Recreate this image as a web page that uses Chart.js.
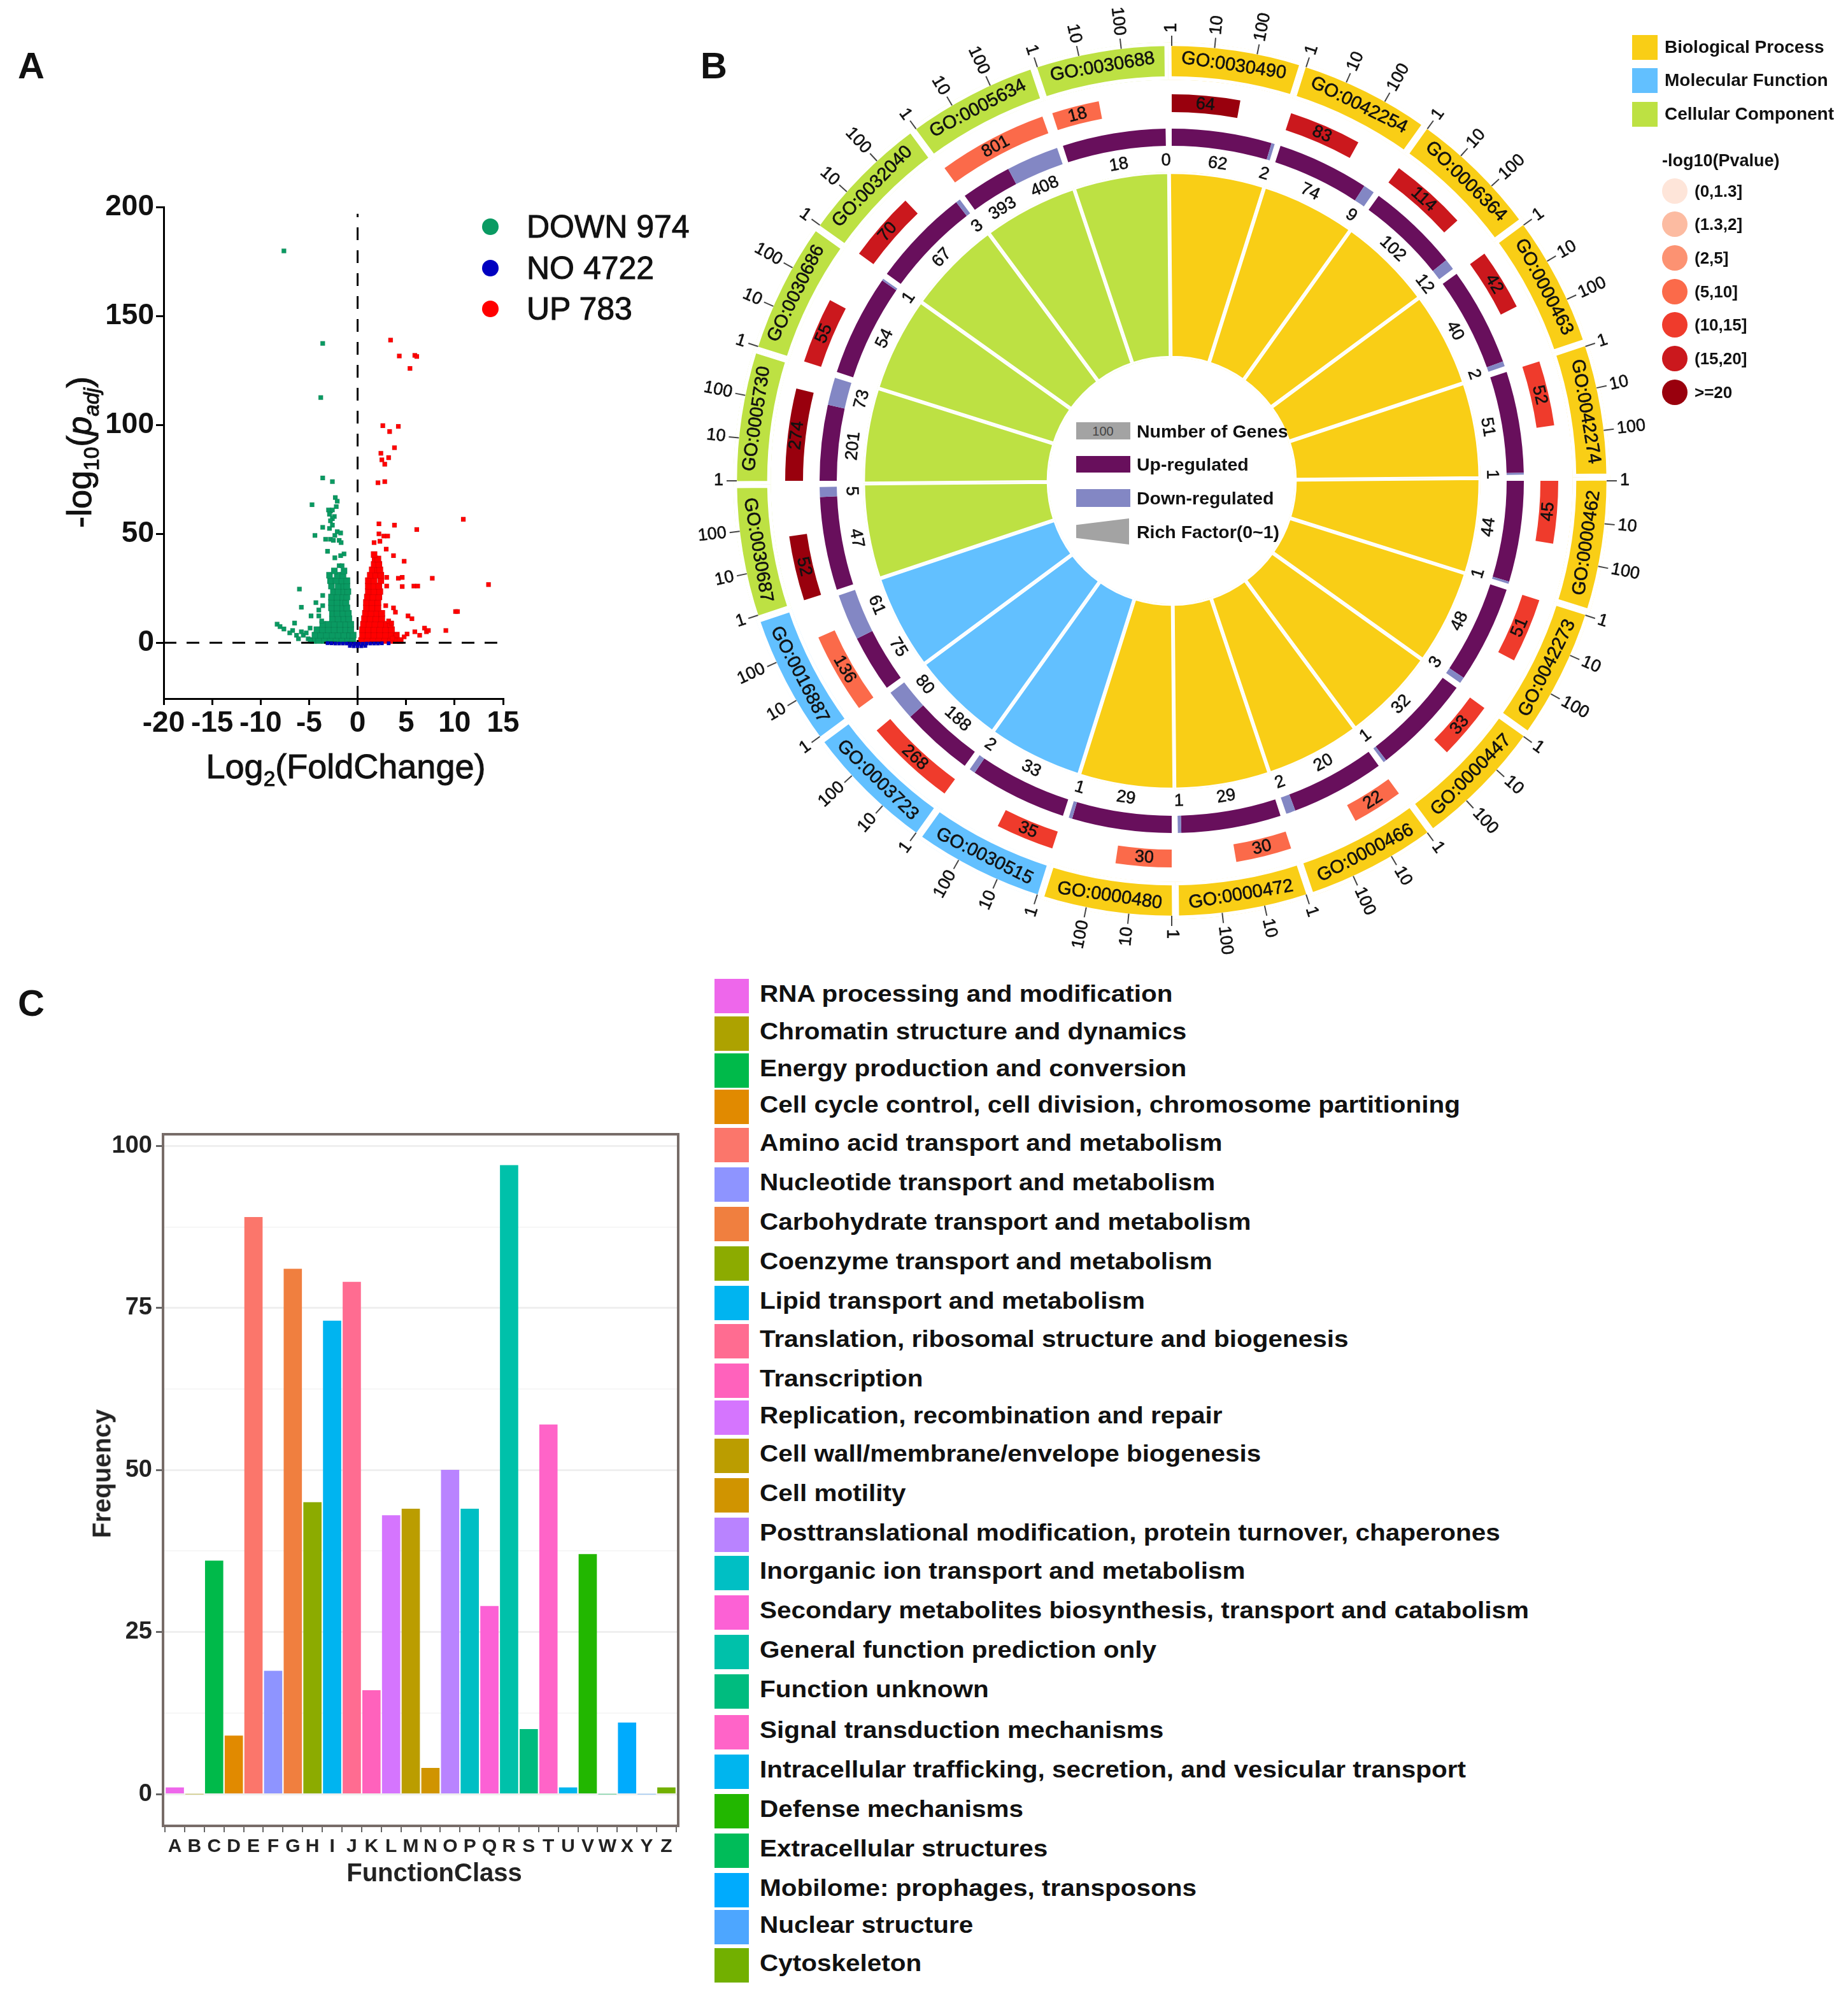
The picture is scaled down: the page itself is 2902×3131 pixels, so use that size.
<!DOCTYPE html>
<html>
<head>
<meta charset="utf-8">
<title>DEG volcano, GO circle plot and COG classes</title>
<script src="https://cdn.jsdelivr.net/npm/chart.js@4/dist/chart.umd.min.js"></script>
<style>
  html, body { margin: 0; padding: 0; background: #fff; }
  #page { position: relative; width: 2902px; height: 3131px; overflow: hidden; font-family: "Liberation Sans", Arial, sans-serif; color: #111; }
  #page canvas { position: absolute; }
  .txt { position: absolute; white-space: nowrap; line-height: 1; transform: translateY(-50%); }
  .box { position: absolute; }
  sub { font-size: 62%; line-height: 0; }
</style>
</head>
<body>
<div id="page">
  <canvas id="volcano" width="900" height="1000" style="left:0;top:280px"></canvas>
  <canvas id="circle" width="1600" height="1530" style="left:1040px;top:0"></canvas>
  <canvas id="cogBars" width="1100" height="1260" style="left:0;top:1740px"></canvas>
</div>
<script>
/////////////////// PANEL A DATA : VOLCANO POINTS (log2FC, -log10 padj) ///////////////////
const downLoose = [[-7.6,180],[-3.6,137.5],[-3.8,112.6],[-3.6,75.7],[-2.6,74],[-4.7,63.4],[-2.3,66.7],[-2.1,65],[-2.2,62.5],
  [-2.8,60.5],[-2.6,61],[-3,61],[-2.9,59],[-2.4,58],[-2.6,57],[-2.8,56],[-2.6,54],[-2.9,52.5],[-3.6,53],[-4.4,49.3],[-3.3,47.5],[-2.8,47.5],
  [-2.1,51],[-1.75,50.4],[-2.35,49.3],[-2.5,47],[-1.9,47],[-1.7,46],[-3.1,42],[-1.4,40.8],[-1.75,40],[-2.35,39],[-1.9,35.4],[-1.6,35.4],
  [-6,24.6],[-3.6,21.7],[-4.3,18.4],[-3.6,17],[-5.8,16.3],[-4,15],[-4.8,12.3],[-4,12.3],[-3.7,10],[-8.3,8.5],[-8,7.4],[-7.6,6.3],[-6.5,9],
  [-6.7,5.6],[-7,4.5],[-6.3,3.4],[-5.8,5],[-5.1,1.8],[-4.9,6.7],[-5.6,3.4],[-6.1,1.8],[-5.3,4.5],[-4.9,1]];
const downCore = [[-4.6,1],[-4,1],[-3.4,1],[-2.8,1],[-2.2,1],[-1.6,1],[-1,1],[-0.5,1],
  [-4.4,3.5],[-3.8,3.5],[-3.2,3.5],[-2.6,3.5],[-2,3.5],[-1.4,3.5],[-0.8,3.5],[-0.45,3.5],
  [-4.2,6],[-3.6,6],[-3,6],[-2.4,6],[-1.8,6],[-1.2,6],[-0.7,6],
  [-3.6,8.5],[-3,8.5],[-2.4,8.5],[-1.8,8.5],[-1.2,8.5],[-0.7,8.5],
  [-2.6,11],[-2,11],[-1.4,11],[-0.9,11],[-2.6,13.5],[-2.1,13.5],[-1.5,13.5],[-0.95,13.5],
  [-2.7,16],[-2.1,16],[-1.5,16],[-1.1,16],[-2.7,18.5],[-2.1,18.5],[-1.5,18.5],[-1.2,18.5],
  [-2.7,21],[-2.1,21],[-1.5,21],[-1.1,21],[-2.5,23.5],[-2,23.5],[-1.4,23.5],[-1,23.5],
  [-2.7,26],[-2,26],[-1.4,26],[-1.1,26],[-2.8,28.5],[-2.2,28.5],[-1.6,28.5],[-1.1,28.5],
  [-2.9,31],[-2.1,31],[-1.5,31],[-2.4,33],[-1.4,33]];
const upLoose = [[3.4,139],[4.3,131.7],[5.9,132],[6.1,131.5],[5.4,126],[2.6,99.7],[4.2,99.4],[3.3,97],[3.8,89.6],[2.4,87],[3.2,85],[2.5,84],
  [2.8,82],[2.1,73.5],[2.8,74],[2.2,54.6],[3.8,54],[6.1,52],[10.9,56.7],[2.2,50],[2.7,49],[3.1,49],[1.7,46],[2.3,46.6],[2.95,43],[3.7,40],
  [4.8,37.4],[7.7,29.6],[4.2,29.6],[4.6,30],[3,30],[13.5,26.7],[3,26],[4.6,25.8],[5.8,26],[6.2,26],[10.1,14.3],[10.3,14.3],[3.7,16],[3.9,14],
  [5.2,12.3],[5.6,11],[9.1,5.6],[7.1,5],[6.9,6.7],[7.3,5.6],[5.9,5],[5.1,4],[4.8,2.7],[6.4,3.4],[4,3.4],[3.6,2],[2.9,17],[3.2,10],[3.5,9]];
const upCore = [[0.4,1],[1,1],[1.6,1],[2.2,1],[2.8,1],[3.4,1],[4,1],[4.4,1],
  [0.5,3.5],[1.1,3.5],[1.7,3.5],[2.3,3.5],[2.9,3.5],[3.5,3.5],[4,3.5],
  [0.5,6],[1.1,6],[1.7,6],[2.3,6],[2.9,6],[3.5,6],[0.6,8.5],[1.2,8.5],[1.8,8.5],[2.4,8.5],[3,8.5],[3.4,8.5],
  [0.7,11],[1.3,11],[1.9,11],[2.5,11],[0.8,13.5],[1.4,13.5],[2,13.5],[2.5,13.5],
  [0.9,16],[1.5,16],[2.1,16],[0.9,18.5],[1.5,18.5],[2.1,18.5],[1,21],[1.6,21],[2.2,21],
  [1.1,23.5],[1.7,23.5],[2.3,23.5],[1.1,26],[1.7,26],[2.2,26],[1.1,28.5],[1.7,28.5],[2.4,28.5],
  [1.3,31],[1.9,31],[2.4,31],[1.5,33.5],[2.1,33.5],[2.3,33.5],[1.7,36],[2.2,36],[1.8,38.5],[2.1,38.5],[1.7,40.5]];
const noPoints = [[-3.1,-0.2],[-2.7,-0.3],[-2.3,-0.4],[-1.9,-0.4],[-1.5,-0.4],[-1.1,-0.4],[-0.7,-0.5],[-0.3,-0.5],[0.1,-0.5],[0.5,-0.5],[0.9,-0.4],
  [1.3,-0.4],[1.7,-0.4],[2.1,-0.4],[2.5,-0.3],[3.2,-0.3],[-0.8,-1.5],[-0.4,-1.6],[0,-1.6],[0.4,-1.6],[0.8,-1.5]];
const volcanoXTicks = [-20,-15,-10,-5,0,5,10,15];
const volcanoYTicks = [0,50,100,150,200];
const volcanoLegend = ["DOWN 974","NO 4722","UP 783"];
const volcanoColors = ["#0A9A62","#0000C0","#FF0000"];

/////////////////// PANEL B DATA : GO CIRCLE, CLOCKWISE FROM THE TOP //////////////////////
const goTerms = ["GO:0030490","GO:0042254","GO:0006364","GO:0000463","GO:0042274","GO:0000462","GO:0042273","GO:0000447","GO:0000466","GO:0000472","GO:0000480",
  "GO:0030515","GO:0003723","GO:0016887","GO:0030687","GO:0005730","GO:0030686","GO:0032040","GO:0005634","GO:0030688"];
const goClass = ["BP","BP","BP","BP","BP","BP","BP","BP","BP","BP","BP","MF","MF","MF","CC","CC","CC","CC","CC","CC"];
const goTotal = [64,83,114,42,52,45,51,33,22,30,30,35,268,136,52,274,55,70,801,18];
const goUp = [62,74,102,40,51,44,48,32,20,29,29,33,188,75,47,201,54,67,393,18];
const goDown = [2,9,12,2,1,1,3,1,2,1,1,2,80,61,5,73,1,3,408,0];
const goPvalueBin = [6,5,5,5,4,4,4,4,3,3,3,4,4,3,6,6,5,5,3,3];
const goTickLabels = ["1","10","100"];
const pvalueLabels = ["(0,1.3]","(1.3,2]","(2,5]","(5,10]","(10,15]","(15,20]",">=20"];
const pvalueColors = ["#FEE5D9","#FCBBA1","#FC9272","#FB6A4A","#EF3B2C","#CB181D","#99000D"];
const classNames = ["Biological Process","Molecular Function","Cellular Component"];
const classColors = {BP:"#F9CE16", MF:"#62C0FF", CC:"#BDE143"};
const upColor = "#680F5C";
const downColor = "#8387C4";

/////////////////// PANEL C DATA : FUNCTION CLASS BARS ///////////////////////////////////
const cogLetters = ["A","B","C","D","E","F","G","H","I","J","K","L","M","N","O","P","Q","R","S","T","U","V","W","X","Y","Z"];
const cogValues = [1,0,36,9,89,19,81,45,73,79,16,43,44,4,50,44,29,97,10,57,1,37,0,11,0,1];
const cogColors = ["#EE67EB","#ADA200","#00BA4A","#E18A00","#FB766B","#8E94FF","#F07F3F","#8CAB00","#00B4F0","#FF6C91","#FF62BC","#D575FE","#BB9D00","#D09400",
  "#B983FF","#00BFC4","#FC61D5","#00C1AA","#00BC7F","#FF64C8","#00B5EE","#22B700","#00BC59","#00ABFD","#4DA6FF","#72B000"];
const cogNames = ["RNA processing and modification","Chromatin structure and dynamics","Energy production and conversion","Cell cycle control, cell division, chromosome partitioning",
  "Amino acid transport and metabolism","Nucleotide transport and metabolism","Carbohydrate transport and metabolism","Coenzyme transport and metabolism","Lipid transport and metabolism",
  "Translation, ribosomal structure and biogenesis","Transcription","Replication, recombination and repair","Cell wall/membrane/envelope biogenesis","Cell motility",
  "Posttranslational modification, protein turnover, chaperones","Inorganic ion transport and metabolism","Secondary metabolites biosynthesis, transport and catabolism",
  "General function prediction only","Function unknown","Signal transduction mechanisms","Intracellular trafficking, secretion, and vesicular transport","Defense mechanisms",
  "Extracellular structures","Mobilome: prophages, transposons","Nuclear structure","Cytoskeleton"];
const cogYTicks = [0,12.5,25,37.5,50,62.5,75,87.5,100];

Chart.defaults.animation = false;
Chart.defaults.responsive = false;
Chart.defaults.font.family = '"Liberation Sans", Arial, sans-serif';
Chart.defaults.color = "#111";

const page = document.getElementById("page");

// small helpers for the text and legend keys that sit around the charts
function addText(html, x, y, font, extra) {
  const d = document.createElement("div");
  d.className = "txt";
  d.innerHTML = html;
  d.style.left = x + "px";
  d.style.top = y + "px";
  d.style.font = font + ' "Liberation Sans", Arial, sans-serif';
  if (extra) Object.assign(d.style, extra);
  page.appendChild(d);
  return d;
}
function addBox(x, y, w, h, color, extra) {
  const d = document.createElement("div");
  d.className = "box";
  Object.assign(d.style, {left: x + "px", top: y + "px", width: w + "px", height: h + "px", background: color});
  if (extra) Object.assign(d.style, extra);
  page.appendChild(d);
  return d;
}

/////////////////// PANEL A ///////////////////////////////////////////////////////////////
new Chart(document.getElementById("volcano"), {
  type: "scatter",
  data: {
    datasets: [
      {data: noPoints, backgroundColor: volcanoColors[1], pointRadius: 4, pointStyle: "rect", order: 0},
      {data: [[-20,0],[14.4,0]], showLine: true, borderColor: "#000", borderWidth: 3, borderDash: [20,16], pointRadius: 0, order: 1},
      {data: [[0,-25.7],[0,197]], showLine: true, borderColor: "#000", borderWidth: 3, borderDash: [20,16], pointRadius: 0, order: 1},
      {data: downLoose, backgroundColor: volcanoColors[0], pointRadius: 5, pointStyle: "rect", order: 2},
      {data: downCore, backgroundColor: volcanoColors[0], pointRadius: 7, pointStyle: "rect", order: 2},
      {data: upLoose, backgroundColor: volcanoColors[2], pointRadius: 5, pointStyle: "rect", order: 2},
      {data: upCore, backgroundColor: volcanoColors[2], pointRadius: 7, pointStyle: "rect", order: 2}
    ]
  },
  options: {
    events: [],
    layout: {padding: {left: 0, top: 45.6, right: 110, bottom: 83}},
    plugins: {legend: {display: false}, tooltip: {enabled: false}},
    scales: {
      x: {
        type: "linear", min: -20, max: 15,
        afterBuildTicks: a => { a.ticks = volcanoXTicks.map(v => ({value: v})); },
        afterFit: s => { s.height = 100; },
        border: {color: "#000", width: 3},
        grid: {drawOnChartArea: false, color: "#000", tickLength: 10, lineWidth: 3},
        ticks: {font: {size: 46, weight: "bold"}, color: "#111", padding: 2, maxRotation: 0, autoSkip: false, callback: v => String(v)}
      },
      y: {
        type: "linear", min: -25.7, max: 200,
        afterBuildTicks: a => { a.ticks = volcanoYTicks.map(v => ({value: v})); },
        afterFit: s => { s.width = 257; },
        border: {color: "#000", width: 3},
        grid: {drawOnChartArea: false, color: "#000", tickLength: 12, lineWidth: 3},
        ticks: {font: {size: 46, weight: "bold"}, color: "#111", padding: 3, callback: v => String(v)}
      }
    }
  }
});
const heavy = {WebkitTextStroke: "1px #111"};
addText('-log<sub>10</sub>(<i>p<sub>adj</sub></i>)', 124, 710, "54px", Object.assign({transform: "translate(-50%,-50%) rotate(-90deg)"}, heavy));
addText('Log<sub>2</sub>(FoldChange)', 543, 1203, "54px", Object.assign({transform: "translate(-50%,-50%)"}, heavy));
[356, 420.5, 485].forEach((y, i) => {
  addBox(757, y - 13, 26, 26, volcanoColors[i], {borderRadius: "50%"});
  addText(volcanoLegend[i], 827, y, "50px", heavy);
});

/////////////////// PANEL B ///////////////////////////////////////////////////////////////
const clear = "rgba(0,0,0,0)";
const SECTOR = 18, SECTOR_GAP = 0.5, SECTOR_USED = SECTOR - 2 * SECTOR_GAP;
const ringUpData = [], ringUpColors = [], ringPData = [], ringPColors = [];
goTerms.forEach((t, i) => {
  const sum = goUp[i] + goDown[i];
  ringUpData.push(SECTOR_GAP, SECTOR_USED * goUp[i] / sum, SECTOR_USED * goDown[i] / sum, SECTOR_GAP);
  ringUpColors.push(clear, upColor, downColor, clear);
  const arc = SECTOR_USED * Math.log10(goTotal[i]) / 3;
  ringPData.push(SECTOR_GAP, arc, SECTOR - SECTOR_GAP - arc);
  ringPColors.push(clear, pvalueColors[goPvalueBin[i]], clear);
});
const sectorColors = goClass.map(c => classColors[c]);
const spacerRing = w => ({data: [1], backgroundColor: clear, borderWidth: 0, weight: w});

// tangent rotation: bottoms point to the centre on the upper half, to the outside on the lower half
function tangentRot(theta) {
  return Math.cos(theta) > 0 ? theta : theta + Math.PI;
}
function putText(ctx, cx, cy, str, theta, r, rot, font, align) {
  ctx.save();
  ctx.translate(cx + r * Math.sin(theta), cy - r * Math.cos(theta));
  ctx.rotate(rot);
  ctx.font = font;
  ctx.textAlign = align || "center";
  ctx.textBaseline = "middle";
  ctx.fillStyle = "#111";
  ctx.strokeStyle = "#111";
  ctx.lineWidth = 0.6;
  ctx.fillText(str, 0, 0);
  ctx.strokeText(str, 0, 0);
  ctx.restore();
}
const fontFam = '"Liberation Sans", Arial, sans-serif';
const circleLabels = {
  id: "circleLabels",
  afterDatasetsDraw(chart) {
    const ctx = chart.ctx;
    const band = chart.getDatasetMeta(0).data;
    const ringP = chart.getDatasetMeta(2).data;
    const ringUp = chart.getDatasetMeta(4).data;
    const cx = band[0].x, cy = band[0].y;
    goTerms.forEach((term, i) => {
      const a = band[i];
      const startTheta = a.startAngle + Math.PI / 2;
      const midTheta = startTheta + (a.endAngle - a.startAngle) / 2;
      // GO label on the outer band
      putText(ctx, cx, cy, term, midTheta, 659, tangentRot(midTheta), "29px " + fontFam);
      // log scale ticks above the band
      goTickLabels.forEach((lab, k) => {
        const th = startTheta + (SECTOR_GAP + k * SECTOR_USED / 3) * Math.PI / 180;
        ctx.save();
        ctx.strokeStyle = "#444";
        ctx.lineWidth = 2;
        ctx.beginPath();
        ctx.moveTo(cx + 683 * Math.sin(th), cy - 683 * Math.cos(th));
        ctx.lineTo(cx + 699 * Math.sin(th), cy - 699 * Math.cos(th));
        ctx.stroke();
        ctx.restore();
        const right = Math.sin(th) > -0.001 && th < Math.PI + 0.001;
        if (right) putText(ctx, cx, cy, lab, th, 704, th - Math.PI / 2, "27px " + fontFam, "left");
        else putText(ctx, cx, cy, lab, th, 704, th + Math.PI / 2, "27px " + fontFam, "right");
      });
      // total count on the p value arc
      const p = ringP[i * 3 + 1];
      const pTheta = (p.startAngle + p.endAngle) / 2 + Math.PI / 2;
      putText(ctx, cx, cy, String(goTotal[i]), pTheta, 593, tangentRot(pTheta), "27px " + fontFam);
      // up and down counts under their arcs
      const u = ringUp[i * 4 + 1], d = ringUp[i * 4 + 2];
      const uTheta = (u.startAngle + u.endAngle) / 2 + Math.PI / 2;
      const dTheta = (d.startAngle + d.endAngle) / 2 + Math.PI / 2;
      putText(ctx, cx, cy, String(goUp[i]), uTheta, 503, tangentRot(uTheta), "27px " + fontFam);
      putText(ctx, cx, cy, String(goDown[i]), dTheta, 503, tangentRot(dTheta), "27px " + fontFam);
    });
  }
};
new Chart(document.getElementById("circle"), {
  type: "doughnut",
  plugins: [circleLabels],
  data: {
    labels: goTerms,
    datasets: [
      {data: goTerms.map(() => 1), backgroundColor: sectorColors, borderColor: "#fff", borderWidth: 5.5, borderAlign: "inner", weight: 59},
      spacerRing(22.5),
      {data: ringPData, backgroundColor: ringPColors, borderWidth: 0, weight: 28},
      spacerRing(26),
      {data: ringUpData, backgroundColor: ringUpColors, borderWidth: 0, weight: 27},
      spacerRing(41),
      {data: goTerms.map(() => 1), backgroundColor: sectorColors, borderColor: "#fff", borderWidth: 3, borderAlign: "inner", weight: 292}
    ]
  },
  options: {
    events: [],
    rotation: -0.5,
    cutout: 193,
    layout: {padding: {left: 111.5, right: 111.5, top: 66.5, bottom: 86.5}},
    plugins: {legend: {display: false}, tooltip: {enabled: false}}
  }
});
// keys in the hole of the circle
addBox(1690, 663, 85, 27, "#A3A3A3");
addText("100", 1732, 676.5, "20px", {transform: "translate(-50%,-50%)", color: "#444"});
addBox(1690, 716, 85, 26, upColor);
addBox(1690, 768, 85, 28, downColor);
addBox(1690, 814, 83, 41, "#A3A3A3", {clipPath: "polygon(0 25%,100% 0,100% 100%,0 75%)"});
addText("Number of Genes", 1785, 676.5, "bold 28.5px");
addText("Up-regulated", 1785, 729, "bold 28.5px");
addText("Down-regulated", 1785, 782, "bold 28.5px");
addText("Rich Factor(0~1)", 1785, 835, "bold 28.5px");
// class legend and p value legend
[55, 107, 160].forEach((y, i) => {
  addBox(2563, y, 40, 39, classColors[["BP","MF","CC"][i]]);
  addText(classNames[i], 2614, y + 19, "bold 28px");
});
addText("-log10(Pvalue)", 2610, 252, "bold 27px");
[299.5, 352, 404.6, 457.6, 510, 563, 616].forEach((y, i) => {
  addBox(2610, y - 20, 40, 40, pvalueColors[i], {borderRadius: "50%"});
  addText(pvalueLabels[i], 2661, y, "bold 26px");
});

/////////////////// PANEL C ///////////////////////////////////////////////////////////////
const frame = {
  id: "frame",
  afterDraw(chart) {
    const {ctx, chartArea: a} = chart;
    ctx.save();
    ctx.strokeStyle = "#776C68";
    ctx.lineWidth = 4;
    ctx.strokeRect(a.left, a.top, a.right - a.left, a.bottom - a.top);
    ctx.restore();
  }
};
new Chart(document.getElementById("cogBars"), {
  type: "bar",
  plugins: [frame],
  data: {
    datasets: [{
      data: cogValues.map((v, i) => ({x: i, y: v})),
      backgroundColor: cogColors,
      barThickness: 28
    }]
  },
  options: {
    events: [],
    layout: {padding: {left: 136, right: 35, top: 41, bottom: 33}},
    plugins: {legend: {display: false}, tooltip: {enabled: false}},
    scales: {
      x: {
        type: "linear", min: -0.6, max: 25.6, offset: false,
        afterBuildTicks: a => { a.ticks = cogLetters.map((l, i) => ({value: i})); },
        afterFit: s => { s.height = 100; },
        border: {display: false},
        grid: {drawOnChartArea: false, color: "#666", tickLength: 10, lineWidth: 2},
        ticks: {font: {size: 30, weight: "bold"}, color: "#222", padding: 5, maxRotation: 0, autoSkip: false, callback: v => cogLetters[v]}
      },
      y: {
        type: "linear", min: -4.9, max: 101.8,
        afterBuildTicks: a => { a.ticks = cogYTicks.map(v => ({value: v})); },
        afterFit: s => { s.width = 120; },
        border: {display: false},
        grid: {
          color: c => (c.tick.value % 25 === 0 ? "#EFEFEF" : "#F6F6F6"),
          lineWidth: c => (c.tick.value % 25 === 0 ? 3 : 2),
          tickColor: c => (c.tick.value % 25 === 0 ? "#666" : "rgba(0,0,0,0)"),
          tickLength: 11
        },
        ticks: {font: {size: 38, weight: "bold"}, color: "#222", padding: 6, autoSkip: false, callback: v => (v % 25 === 0 ? String(v) : "")}
      }
    }
  }
});
addText("FunctionClass", 682, 2940, "bold 40px", {transform: "translate(-50%,-50%)", color: "#222"});
addText("Frequency", 160, 2314, "bold 40px", {transform: "translate(-50%,-50%) rotate(-90deg)", color: "#222"});
// legend rows, their heights follow the picture
const cogRowY = [1564,1623,1681,1738,1798,1860,1922,1984,2046,2106,2168,2226,2286,2348,2410,2470,2532,2594,2656,2720,2782,2844,2906,2968,3026,3086];
cogNames.forEach((name, i) => {
  addBox(1122, cogRowY[i] - 27, 54, 54, cogColors[i]);
  addText(name, 1193, cogRowY[i] - 3, "bold 37px", {transform: "translateY(-50%) scaleX(1.094)", transformOrigin: "left center"});
});

// panel letters
addText("A", 28, 102, "bold 58px");
addText("B", 1100, 102, "bold 58px");
addText("C", 28, 1574, "bold 58px");
</script>
</body>
</html>
